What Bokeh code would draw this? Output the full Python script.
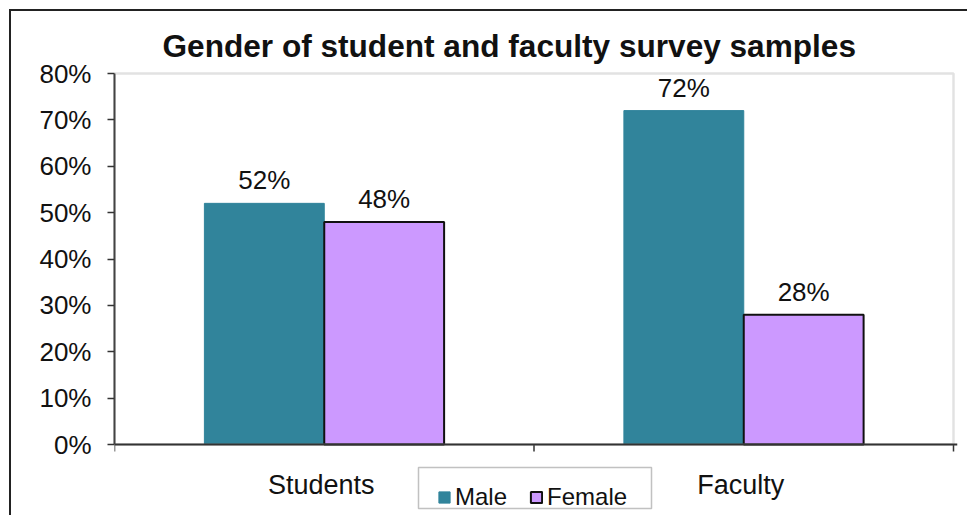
import math
from bokeh.plotting import figure
from bokeh.models import (ColumnDataSource, Range1d, FixedTicker, NumeralTickFormatter,
                          Legend, LegendItem, BoxAnnotation, Span)
from bokeh.transform import dodge
from bokeh.embed import file_html
from bokeh.resources import INLINE
from bokeh.core.properties import value

categories = ["Students", "Faculty"]
male = [0.52, 0.72]
female = [0.48, 0.28]
y_ticks = [0.0, 0.1, 0.2, 0.3, 0.4, 0.5, 0.6, 0.7, 0.8]

FONT = "Liberation Sans"
n = len(categories)
y_max = 0.8
bar_w = 1 / 3.5
centers = [i + 0.5 for i in range(n)]
bounds = list(range(n + 1))

# layout (pixels)
W, H = 958, 506
plot_w, plot_h = 839, 371          # value area: 0..n by 0..y_max
pad_r, pad_t = 4, 3                # room so the border lines are not clipped
below_h = 71                       # room below the 0 line for labels + legend
ml, mt = 103, 62 - pad_t
mr = W - ml - plot_w - pad_r
mb = H - mt - pad_t - plot_h - below_h
px_y = plot_h / y_max
px_x = plot_w / n

src = ColumnDataSource(dict(
    x=centers,
    male=male,
    female=female,
    male_lbl=[f"{v:.0%}" for v in male],
    female_lbl=[f"{v:.0%}" for v in female],
))

p = figure(width=W, height=H, output_backend="svg", toolbar_location=None,
           x_range=Range1d(0, n * (plot_w + pad_r) / plot_w),
           y_range=Range1d(-below_h / px_y, y_max + pad_t / px_y),
           min_border_left=ml, min_border_right=mr, min_border_top=mt, min_border_bottom=mb)
p.styles = {"margin-left": "9px", "margin-top": "9px",
            "border-left": "2px solid #222", "border-top": "2px solid #222"}

p.xgrid.visible = False
p.ygrid.visible = False
p.xaxis.visible = False
p.outline_line_color = None
p.background_fill_color = "white"
p.border_fill_color = "white"

# plot-area border (top/right gray)
p.add_layout(BoxAnnotation(left=0, right=n, bottom=0, top=y_max, fill_alpha=0,
                           line_color="#a0a0a0", line_width=2.5))

r_m = p.vbar(x=dodge("x", -bar_w / 2), top="male", width=bar_w, source=src,
             fill_color="#31849B", line_color="#31849B")
r_f = p.vbar(x=dodge("x", bar_w / 2), top="female", width=bar_w, source=src,
             fill_color="#CC99FF", line_color="#111111", line_width=2)

for col, lbl, off in [("male", "male_lbl", -bar_w / 2), ("female", "female_lbl", bar_w / 2)]:
    p.text(x=dodge("x", off), y=col, text=lbl, source=src, text_align="center",
           text_baseline="middle", y_offset=-23, text_font=value(FONT),
           text_font_size="26px", text_color="#111111")

# category axis (drawn by hand because the legend sits in that band)
p.add_layout(Span(location=0, dimension="width", line_color="#333333", line_width=2))
p.ray(x=bounds, y=[0] * len(bounds), length=7, length_units="screen",
      angle=-math.pi / 2, line_color="#333333", line_width=1.5)
p.text(x=centers, y=[0] * n, text=categories, text_align="center",
       text_baseline="middle", y_offset=40, x_offset=-3, text_font=value(FONT),
       text_font_size="27px", text_color="#111111")

ay = p.yaxis[0]
ay.bounds = (0, y_max)
ay.ticker = FixedTicker(ticks=y_ticks)
ay.formatter = NumeralTickFormatter(format="0%")
ay.minor_tick_line_color = None
ay.major_tick_out = 7
ay.major_tick_in = 0
ay.major_tick_line_color = "#333333"
ay.major_tick_line_width = 1.5
ay.axis_line_color = "#333333"
ay.axis_line_width = 2
ay.major_label_text_font = FONT
ay.major_label_text_font_size = "26px"
ay.major_label_text_color = "#111111"
ay.major_label_standoff = 16

# title
p.title.text = "Gender of student and faculty survey samples"
p.title.text_font = FONT
p.title.text_font_size = "31.6px"
p.title.text_font_style = "bold"
p.title.text_color = "#111111"
p.title.align = "left"
p.title.offset = 48
p.title.standoff = 13

# legend frame (pixel box below the axis, converted to value units)
leg_l, leg_r, leg_b, leg_t = 304, 537, 7, 48
p.add_layout(BoxAnnotation(left=leg_l / px_x, right=leg_r / px_x,
                           bottom=(leg_b - below_h) / px_y, top=(leg_t - below_h) / px_y,
                           fill_color="white", fill_alpha=1.0,
                           line_color="#333333", line_width=1.5))

legend = Legend(items=[LegendItem(label="Male", renderers=[r_m]),
                       LegendItem(label="Female", renderers=[r_f])],
                orientation="horizontal", location=(323, 4),
                glyph_width=14, glyph_height=14, label_standoff=4, spacing=22,
                padding=2, label_text_font=FONT, label_text_font_size="24px",
                label_text_color="#111111", border_line_color=None,
                background_fill_alpha=0.0)
p.add_layout(legend, "center")

open("out.html", "w").write(file_html(p, INLINE))
